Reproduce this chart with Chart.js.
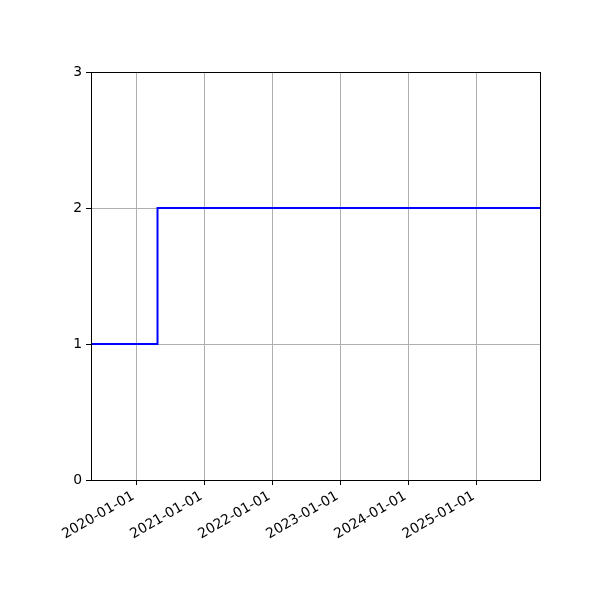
<!DOCTYPE html>
<html>
<head>
<meta charset="utf-8">
<script src="https://cdn.jsdelivr.net/npm/chart.js@4"></script>
<style>
html,body{margin:0;padding:0;background:#fff;}
#wrap{width:600px;height:600px;}
</style>
</head>
<body>
<div id="wrap"><canvas id="c" width="600" height="600"></canvas></div>
<script>
const dates = ['2019-05-03', '2020-04-24', '2025-12-07'];
const values = [1, 2, 2];
const yearTicks = [2020, 2021, 2022, 2023, 2024, 2025];
const yTicks = [0, 1, 2, 3];

const toMs = s => Date.parse(s + 'T00:00:00Z');
const fmt = ms => {
  const d = new Date(ms);
  const p = n => String(n).padStart(2, '0');
  return d.getUTCFullYear() + '-' + p(d.getUTCMonth() + 1) + '-' + p(d.getUTCDate());
};

const frame = {
  id: 'frame',
  afterDatasetsDraw(chart) {
    const a = chart.chartArea, ctx = chart.ctx;
    ctx.save();
    ctx.strokeStyle = '#000';
    ctx.lineWidth = 1;
    ctx.strokeRect(Math.round(a.left) + 0.5, Math.round(a.top) + 0.5,
                   Math.round(a.right - a.left), Math.round(a.bottom - a.top));
    ctx.restore();
  }
};

const font = {family: 'DejaVu Sans', size: 13.9};

new Chart(document.getElementById('c'), {
  type: 'line',
  data: {
    datasets: [{
      data: dates.map((d, i) => ({x: toMs(d), y: values[i]})),
      borderColor: '#0000ff',
      borderWidth: 2,
      pointRadius: 0,
      stepped: 'before',
      fill: false
    }]
  },
  options: {
    responsive: false,
    animation: false,
    plugins: {legend: {display: false}, tooltip: {enabled: false}},
    layout: {padding: {top: 72, right: 60, left: 0, bottom: 0}},
    scales: {
      x: {
        type: 'linear',
        min: toMs(dates[0]),
        max: toMs(dates[dates.length - 1]),
        afterBuildTicks: s => { s.ticks = yearTicks.map(y => ({value: Date.UTC(y, 0, 1)})); },
        afterFit: s => { s.height = 120; },
        ticks: {
          autoSkip: false, minRotation: 30, maxRotation: 30, padding: 3, labelOffset: -3,
          color: '#000', font,
          callback: v => fmt(v)
        },
        grid: {color: '#b0b0b0', lineWidth: 1, tickColor: '#000', tickLength: 5, drawOnChartArea: true},
        border: {display: true, color: '#000', width: 1}
      },
      y: {
        type: 'linear',
        min: yTicks[0],
        max: yTicks[yTicks.length - 1],
        afterBuildTicks: s => { s.ticks = yTicks.map(v => ({value: v})); },
        afterFit: s => { s.width = 91; },
        ticks: {color: '#000', font, padding: 4, callback: v => String(v)},
        grid: {color: '#b0b0b0', lineWidth: 1, tickColor: '#000', tickLength: 5},
        border: {display: true, color: '#000', width: 1}
      }
    }
  },
  plugins: [frame]
});
</script>
</body>
</html>
